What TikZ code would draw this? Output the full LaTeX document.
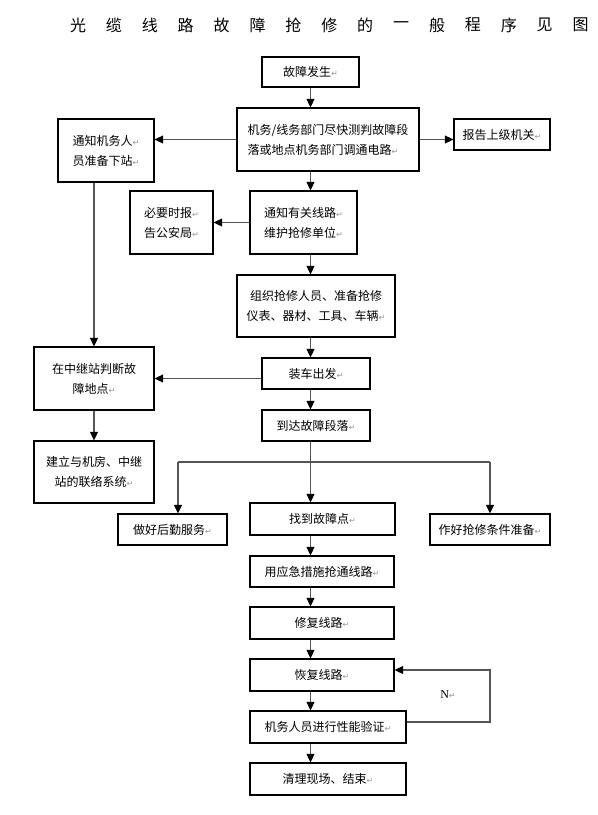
\documentclass[tikz,border=0pt]{standalone}
\usepackage{fontspec}
\setmainfont{Noto Sans CJK SC}
\newfontfamily\markfont{DejaVu Sans}
\newfontfamily\latinserif{Liberation Serif}
\usetikzlibrary{arrows.meta}
\definecolor{linegray}{RGB}{85,85,85}
\definecolor{markgray}{RGB}{150,150,150}
\newcommand{\retmark}{{\color{markgray}\markfont\fontsize{6}{6}\selectfont ↵}}
\tikzset{
  stage/.style={
    draw=black,
    line width=0.8pt,
    fill=white,
    inner sep=2pt,
    align=center,
    font=\fontsize{9}{15}\selectfont
  },
  wh/.style 2 args={minimum width=#1*0.75pt, minimum height=#2*0.75pt},
  line/.style={draw=linegray, line width=0.9pt},
  flow/.style={line, -{Triangle[length=6.5pt,width=6pt,color=black]}},
  heading/.style={font=\fontsize{12}{12}\selectfont, inner sep=0pt}
}

\begin{document}
\begin{tikzpicture}[x=0.75pt, y=-0.75pt]
  \useasboundingbox (0,0) rectangle (598,815);
  % Title
  \foreach \c [count=\i] in {光,缆,线,路,故,障,抢,修,的,一,般,程,序,见,图}
    \node[heading] (t\i) at ({78+35.9*(\i-1)},25) {\c};
  % Main column
  \node[stage, wh={97}{30}] (start) at (310.5,72) {故障发生\retmark};
  \node[stage, wh={182}{63}, align=left] (judge) at (328,139.5) {机务/线务部门尽快测判故障段\\落或地点机务部门调通电路\retmark};
  \node[stage, wh={107}{63}] (notify) at (303.5,222.5) {通知有关线路\retmark\\维护抢修单位\retmark};
  \node[stage, wh={158}{62}] (organize) at (316,306) {组织抢修人员、准备抢修\\仪表、器材、工具、车辆\retmark};
  \node[stage, wh={108}{31}] (load) at (316,373.5) {装车出发\retmark};
  \node[stage, wh={108}{31}] (arrive) at (316,425.5) {到达故障段落\retmark};
  \node[stage, wh={145}{32}] (find) at (322.5,519) {找到故障点\retmark};
  \node[stage, wh={144}{31}] (emergency) at (322,571.5) {用应急措施抢通线路\retmark};
  \node[stage, wh={144}{32}] (repair) at (322,623) {修复线路\retmark};
  \node[stage, wh={144}{32}] (restore) at (322,675) {恢复线路\retmark};
  \node[stage, wh={156}{32}] (verify) at (328,727) {机务人员进行性能验证\retmark};
  \node[stage, wh={156}{32}] (clean) at (328,779) {清理现场、结束\retmark};
  % Side boxes
  \node[stage, wh={96}{63}] (notice) at (106,150.5) {通知机务人\retmark\\员准备下站\retmark};
  \node[stage, wh={96}{31}] (report) at (502,134.5) {报告上级机关\retmark};
  \node[stage, wh={83}{63}] (police) at (171.5,222.5) {必要时报\retmark\\告公安局\retmark};
  \node[stage, wh={120}{63}] (relay) at (94,378.5) {在中继站判断故\\障地点\retmark};
  \node[stage, wh={120}{62}] (link) at (94,472) {建立与机房、中继\\站的联络系统\retmark};
  \node[stage, wh={109}{31}] (logistics) at (172.5,529.5) {做好后勤服务\retmark};
  \node[stage, wh={120}{31}] (prepare) at (490,529.5) {作好抢修条件准备\retmark};
  % Main flow
  \foreach \a/\b in {start/judge, judge/notify, notify/organize, organize/load,
      load/arrive, arrive/find, find/emergency, emergency/repair,
      repair/restore, restore/verify, verify/clean}
    \draw[flow] (\a.south -| start.south) -- (\b.north -| start.south);
  % Side flows
  \draw[flow] (judge.west) -- (notice.east |- judge.west);
  \draw[flow] (judge.east) -- (report.west |- judge.east);
  \draw[flow] (notify.west) -- (police.east);
  \draw[flow] (notice.south -| relay.north) -- (relay.north);
  \draw[flow] (load.west |- relay.east) -- (relay.east);
  \draw[flow] (relay.south) -- (link.north);
  % Fork after arrival
  \coordinate (lf) at (178,462);
  \coordinate (rf) at (490,462);
  \draw[line] (lf) -- (rf);
  \draw[flow] (lf) -- (lf |- logistics.north);
  \draw[flow] (rf) -- (prepare.north);
  % Check loop
  \coordinate (back) at (490,695);
  \draw[flow] ([yshift=3.75pt]verify.east) -| (back) |- ([yshift=3.75pt]restore.east);
  \node[font=\latinserif\fontsize{9}{9}\selectfont] (no) at (448,695) {N\retmark};
\end{tikzpicture}
\end{document}
